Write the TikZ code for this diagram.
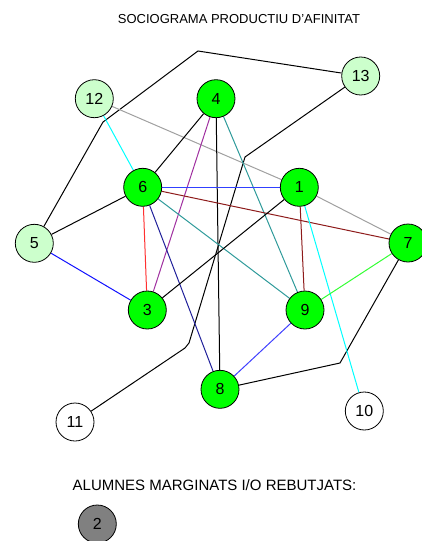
\documentclass[tikz,border=0pt]{standalone}
\usepackage{fontspec}
\setmainfont{Liberation Sans}
\usetikzlibrary{backgrounds}
\definecolor{lgreen}{HTML}{CCFFCC}
\definecolor{bgreen}{HTML}{00FF00}
\definecolor{dgray}{HTML}{808080}
\definecolor{ecyan}{HTML}{00FFFF}
\definecolor{egray}{HTML}{A0A0A0}
\definecolor{epurple}{HTML}{A030A0}
\definecolor{eteal}{HTML}{2E9A9A}
\definecolor{emaroon}{HTML}{8E1B1B}
\definecolor{ered}{HTML}{FF3030}
\definecolor{enavy}{HTML}{20209A}
\definecolor{eblue}{HTML}{1010FF}
\definecolor{hblue}{HTML}{3040FF}
\definecolor{elblue}{HTML}{4040FF}
\definecolor{egreen}{HTML}{33FF33}
\tikzset{
  stu/.style={circle, draw=black, line width=0.8pt, minimum size=38pt, inner sep=0pt, font=\fontsize{16}{16}\selectfont},
  core/.style={stu, fill=bgreen},
  peri/.style={stu, fill=lgreen},
  lone/.style={stu, fill=white},
  rej/.style={stu, fill=dgray},
  link/.style={line width=1pt},
}
\begin{document}
\begin{tikzpicture}[x=1pt,y=-1pt]
\useasboundingbox (0,0) rectangle (421,541);
\node[font=\fontsize{13}{13}\selectfont] (title) at (239,19) {SOCIOGRAMA PRODUCTIU D'AFINITAT};
\node[font=\fontsize{15}{15}\selectfont] (marg) at (214.5,485) {ALUMNES MARGINATS I/O REBUTJATS:};

\node[peri] (n13) at (360.7,76) {13};
\node[peri] (n12) at (94.3,98.7) {12};
\node[core] (n4) at (216,98.7) {4};
\node[core] (n6) at (142.7,187.3) {6};
\node[core] (n1) at (299.3,187.3) {1};
\node[peri] (n5) at (34.3,243.3) {5};
\node[core] (n7) at (408,243) {7};
\node[core] (n3) at (147.3,310) {3};
\node[core] (n9) at (305,310) {9};
\node[core] (n8) at (220,389.3) {8};
\node[lone] (n11) at (75,422) {11};
\node[lone] (n10) at (364.3,411) {10};
\node[rej] (n2) at (97.3,524) {2};

\coordinate (a1) at (103,122);
\coordinate (a2) at (198,51);
\coordinate (b1) at (245,157);
\coordinate (b2) at (189,343);
\coordinate (b3) at (185,348);
\coordinate (c1) at (340,363);

\begin{scope}[on background layer]
\draw[link] (n5) -- (a1) -- (a2) -- (n13);
\draw[link] (n13) -- (b1) -- (b2) -- (b3) -- (n11);
\draw[link] (n7) -- (c1) -- (n8);
\draw[link, ecyan] (n12) -- (n6);
\draw[link, egray] (n12) -- (n1);
\draw[link, egray] (n1) -- (n7);
\draw[link] (n4) -- (n6);
\draw[link, epurple] (n4) -- (n3);
\draw[link] (n4) -- (n8);
\draw[link, eteal] (n4) -- (n9);
\draw[link, hblue] (n6) -- (n1);
\draw[link, emaroon] (n6) -- (n7);
\draw[link] (n6) -- (n5);
\draw[link, ered] (n6) -- (n3);
\draw[link, enavy] (n6) -- (n8);
\draw[link, eteal] (n6) -- (n9);
\draw[link] (n1) -- (n3);
\draw[link, emaroon] (n1) -- (n9);
\draw[link, ecyan] (n1) -- (n10);
\draw[link, eblue] (n5) -- (n3);
\draw[link, egreen] (n7) -- (n9);
\draw[link, elblue] (n9) -- (n8);
\end{scope}
\end{tikzpicture}
\end{document}
